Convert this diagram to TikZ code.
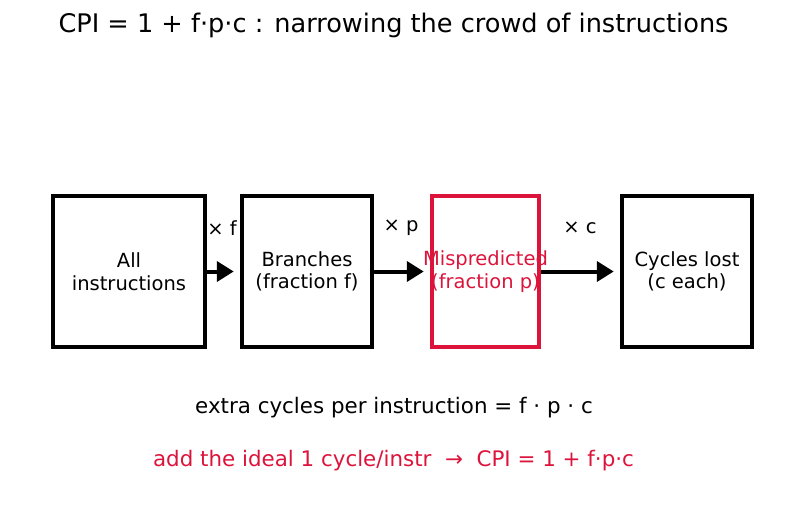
\documentclass[tikz,border=0pt]{standalone}
\usepackage{fontspec}
\setmainfont{DejaVu Sans}
\usetikzlibrary{arrows.meta}
\definecolor{crim}{HTML}{DC143C}
\begin{document}
\begin{tikzpicture}[x=1pt,y=-1pt,
  box/.style={draw, line width=4.5pt, inner sep=0pt, align=center, font=\fontsize{19.5}{22.5}\selectfont},
  flow/.style={line width=4pt, -{Triangle[length=17pt,width=20pt]}, shorten >=6pt},
  mult/.style={font=\fontsize{19.5}{22}\selectfont},
  note/.style={font=\fontsize{21.4}{25}\selectfont}]
\useasboundingbox (0,0) rectangle (787,512);
\node (title) at (393.5,25) {\fontsize{25.6}{30}\selectfont CPI = 1 + f·p·c : narrowing the crowd of instructions};
\node[box, minimum width=152pt, minimum height=151pt] (all) at (129,271.5) {All\\instructions};
\node[box, minimum width=130pt, minimum height=151pt] (br) at (307,271.5) {Branches\\(fraction f)};
\node[box, draw=crim, text=crim, minimum width=107pt, minimum height=151pt] (mis) at (485.5,271.5) {\makebox[0pt]{Mispredicted}\\\makebox[0pt]{(fraction p)}};
\node[box, minimum width=130pt, minimum height=151pt] (cyc) at (687,271.5) {Cycles lost\\(c each)};
\draw[flow] (all) -- (br);
\draw[flow] (br) -- (mis);
\draw[flow] (mis) -- (cyc);
\node[mult] (mf) at (222,228) {× f};
\node[mult] (mp) at (401,228) {× p};
\node[mult] (mc) at (580,228) {× c};
\node[note] (extra) at (394,408) {extra cycles per instruction = f · p · c};
\node[note, text=crim] (ideal) at (393.5,461) {add the ideal 1 cycle/instr\ \ →\ \ CPI = 1 + f·p·c};
\end{tikzpicture}
\end{document}
